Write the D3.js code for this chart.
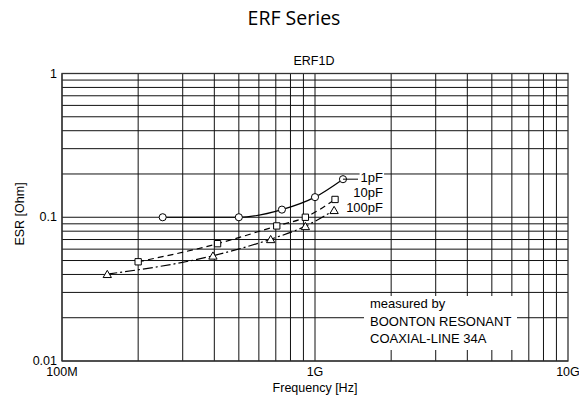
<!DOCTYPE html>
<html>
<head>
<meta charset="utf-8">
<script src="https://cdn.jsdelivr.net/npm/d3@7"></script>
<style>
  body { margin: 0; background: #fff; }
  text { font-family: "Liberation Sans", Arial, sans-serif; }
</style>
</head>
<body>
<div id="chart"></div>
<script>
// data (frequency in Hz, ESR in Ohm)
const freq1pF = [250e6, 500e6, 740e6, 1.0e9, 1.29e9]
const esr1pF = [0.1, 0.1, 0.113, 0.138, 0.184]
const freq10pF = [200e6, 412e6, 706e6, 916e6, 1.2e9]
const esr10pF = [0.049, 0.0655, 0.087, 0.1, 0.133]
const freq100pF = [151e6, 395e6, 668e6, 916e6, 1.19e9]
const esr100pF = [0.0402, 0.054, 0.0703, 0.0866, 0.112]
const seriesNames = ["1pF", "10pF", "100pF"]
const xTickLabels = ["100M", "1G", "10G"]
const yTickLabels = ["0.01", "0.1", "1"]
const noteLines = ["measured by", "BOONTON RESONANT", "COAXIAL-LINE 34A"]

const W = 579, H = 398
const plotLeft = 62, plotRight = 568, plotTop = 73.5, plotBottom = 361

const svg = d3.select("#chart").append("svg")
    .attr("width", W)
    .attr("height", H)

const x = d3.scaleLog().domain([1e8, 1e10]).range([plotLeft, plotRight])
const y = d3.scaleLog().domain([0.01, 1]).range([plotBottom, plotTop])

// grid
let xGrid = []
let yGrid = []
for (let d = 8; d < 10; d++) for (let m = 1; m <= 9; m++) xGrid.push(m * Math.pow(10, d))
for (let d = -2; d < 0; d++) for (let m = 1; m <= 9; m++) yGrid.push(m * Math.pow(10, d))

const grid = svg.append("g")
grid.selectAll("line.vx").data(xGrid).enter().append("line")
    .attr("x1", (d) => x(d)).attr("x2", (d) => x(d))
    .attr("y1", plotTop).attr("y2", plotBottom)
    .attr("stroke", "#111").attr("stroke-width", 1)
grid.selectAll("line.hy").data(yGrid).enter().append("line")
    .attr("y1", (d) => y(d)).attr("y2", (d) => y(d))
    .attr("x1", plotLeft).attr("x2", plotRight)
    .attr("stroke", "#111").attr("stroke-width", 1)

svg.append("rect")
    .attr("x", plotLeft).attr("y", plotTop)
    .attr("width", plotRight - plotLeft).attr("height", plotBottom - plotTop)
    .attr("fill", "none").attr("stroke", "#333").attr("stroke-width", 1.3)

// note box, covers the grid
svg.append("rect")
    .attr("x", 364).attr("y", 296).attr("width", 153).attr("height", 54)
    .attr("fill", "#fff")
svg.append("g").selectAll("text").data(noteLines).enter().append("text")
    .attr("x", 370)
    .attr("y", (d, i) => 308 + i * 17.5)
    .attr("font-size", 13)
    .text((d) => d)

// ticks
svg.append("g").selectAll("text").data(d3.range(3)).enter().append("text")
    .attr("x", (i) => x(1e8 * Math.pow(10, i)))
    .attr("y", 376)
    .attr("text-anchor", "middle")
    .attr("font-size", 12.5)
    .text((i) => xTickLabels[i])
svg.append("g").selectAll("text").data(d3.range(3)).enter().append("text")
    .attr("x", 57)
    .attr("y", (i) => y(0.01 * Math.pow(10, i)) + 4)
    .attr("text-anchor", "end")
    .attr("font-size", 12.5)
    .text((i) => yTickLabels[i])

svg.append("text")
    .attr("x", x(1e9)).attr("y", 392)
    .attr("text-anchor", "middle").attr("font-size", 12.5)
    .text("Frequency [Hz]")
svg.append("text")
    .attr("transform", "translate(" + 24 + "," + 214 + ") rotate(-90)")
    .attr("text-anchor", "middle").attr("font-size", 12.5)
    .text("ESR [Ohm]")
svg.append("text")
    .attr("x", 314).attr("y", 65)
    .attr("text-anchor", "middle").attr("font-size", 12.5)
    .text("ERF1D")
svg.append("text")
    .attr("x", 294).attr("y", 25)
    .attr("text-anchor", "middle").attr("font-size", 19.5)
    .style("font-family", "'Open Sans', sans-serif")
    .text("ERF Series")

// series
const series = [
    { f: freq1pF, r: esr1pF, dash: null, mark: "circle" },
    { f: freq10pF, r: esr10pF, dash: "6,4", mark: "square" },
    { f: freq100pF, r: esr100pF, dash: "10,3,2,3", mark: "triangle" }
]

const line = d3.line()
    .x((d) => x(d[0]))
    .y((d) => y(d[1]))
    .curve(d3.curveMonotoneX)

series.forEach((s, k) => {
    const pts = s.f.map((f, i) => [f, s.r[i]])
    svg.append("path")
        .datum(pts)
        .attr("d", line)
        .attr("fill", "none")
        .attr("stroke", "#000")
        .attr("stroke-width", 1.2)
        .attr("stroke-dasharray", s.dash)

    const sym = s.mark === "circle" ? d3.symbolCircle : s.mark === "square" ? d3.symbolSquare : d3.symbolTriangle
    svg.append("g").selectAll("path").data(pts).enter().append("path")
        .attr("d", d3.symbol().type(sym).size(s.mark === "triangle" ? 30 : 40))
        .attr("transform", (d) => "translate(" + x(d[0]) + "," + (y(d[1]) + (s.mark === "triangle" ? 1 : 0)) + ")")
        .attr("fill", "#fff")
        .attr("stroke", "#000")
        .attr("stroke-width", 1)
})

// leader line for 1pF and series labels with white background
const last1 = freq1pF.length - 1
svg.append("line")
    .attr("x1", x(freq1pF[last1])).attr("x2", 358)
    .attr("y1", y(esr1pF[last1])).attr("y2", y(esr1pF[last1]))
    .attr("stroke", "#000").attr("stroke-width", 1)

const labelY = [182, 197, 212]
seriesNames.forEach((name, i) => {
    const t = svg.append("text")
        .attr("x", 383).attr("y", labelY[i])
        .attr("text-anchor", "end")
        .attr("font-size", 13)
        .text(name)
    const bb = t.node().getBBox()
    svg.insert("rect", () => t.node())
        .attr("x", bb.x - 1).attr("y", bb.y + 1)
        .attr("width", bb.width + 2).attr("height", bb.height - 2)
        .attr("fill", "#fff")
})
</script>
</body>
</html>
